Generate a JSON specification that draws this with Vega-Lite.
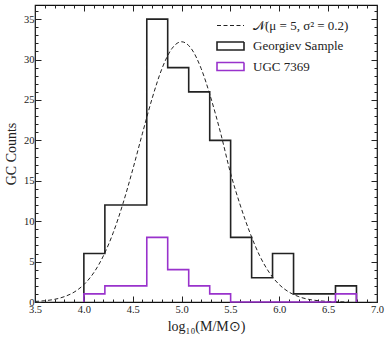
{
  "$schema": "https://vega.github.io/schema/vega-lite/v6.json",
  "width": 342,
  "height": 297,
  "autosize": {"type": "none"},
  "padding": {"left": 35, "top": 5, "right": 13, "bottom": 38},
  "background": "white",
  "config": {
    "font": "Liberation Serif",
    "view": {"stroke": "#111", "strokeWidth": 1.2},
    "axis": {"domain": false, "grid": false, "labelFont": "Liberation Serif", "titleFont": "Liberation Serif", "labelColor": "#222", "tickColor": "#222", "titleFontWeight": "normal", "labelFontSize": 10.5, "titleFontSize": 14, "titleColor": "#222"},
    "legend": {"labelFont": "Liberation Serif", "labelFontSize": 13, "labelColor": "#222"}
  },
  "datasets": {
    "curve": [
      {"series": "𝒩(μ = 5, σ² = 0.2)", "x": 3.5, "y": 0.07}, {"series": "𝒩(μ = 5, σ² = 0.2)", "x": 3.6, "y": 0.16}, {"series": "𝒩(μ = 5, σ² = 0.2)", "x": 3.7, "y": 0.33}, {"series": "𝒩(μ = 5, σ² = 0.2)", "x": 3.8, "y": 0.66}, {"series": "𝒩(μ = 5, σ² = 0.2)", "x": 3.9, "y": 1.22},
      {"series": "𝒩(μ = 5, σ² = 0.2)", "x": 4.0, "y": 2.15}, {"series": "𝒩(μ = 5, σ² = 0.2)", "x": 4.1, "y": 3.6}, {"series": "𝒩(μ = 5, σ² = 0.2)", "x": 4.2, "y": 5.71}, {"series": "𝒩(μ = 5, σ² = 0.2)", "x": 4.3, "y": 8.56}, {"series": "𝒩(μ = 5, σ² = 0.2)", "x": 4.4, "y": 12.17},
      {"series": "𝒩(μ = 5, σ² = 0.2)", "x": 4.5, "y": 16.38}, {"series": "𝒩(μ = 5, σ² = 0.2)", "x": 4.6, "y": 20.89}, {"series": "𝒩(μ = 5, σ² = 0.2)", "x": 4.7, "y": 25.24}, {"series": "𝒩(μ = 5, σ² = 0.2)", "x": 4.8, "y": 28.9}, {"series": "𝒩(μ = 5, σ² = 0.2)", "x": 4.9, "y": 31.34},
      {"series": "𝒩(μ = 5, σ² = 0.2)", "x": 5.0, "y": 32.2}, {"series": "𝒩(μ = 5, σ² = 0.2)", "x": 5.1, "y": 31.34}, {"series": "𝒩(μ = 5, σ² = 0.2)", "x": 5.2, "y": 28.9}, {"series": "𝒩(μ = 5, σ² = 0.2)", "x": 5.3, "y": 25.24}, {"series": "𝒩(μ = 5, σ² = 0.2)", "x": 5.4, "y": 20.89},
      {"series": "𝒩(μ = 5, σ² = 0.2)", "x": 5.5, "y": 16.0}, {"series": "𝒩(μ = 5, σ² = 0.2)", "x": 5.6, "y": 12.0}, {"series": "𝒩(μ = 5, σ² = 0.2)", "x": 5.7, "y": 8.56}, {"series": "𝒩(μ = 5, σ² = 0.2)", "x": 5.8, "y": 5.71}, {"series": "𝒩(μ = 5, σ² = 0.2)", "x": 5.9, "y": 3.6},
      {"series": "𝒩(μ = 5, σ² = 0.2)", "x": 6.0, "y": 2.15}, {"series": "𝒩(μ = 5, σ² = 0.2)", "x": 6.1, "y": 1.22}, {"series": "𝒩(μ = 5, σ² = 0.2)", "x": 6.2, "y": 0.66}, {"series": "𝒩(μ = 5, σ² = 0.2)", "x": 6.3, "y": 0.33}, {"series": "𝒩(μ = 5, σ² = 0.2)", "x": 6.4, "y": 0.16},
      {"series": "𝒩(μ = 5, σ² = 0.2)", "x": 6.5, "y": 0.07}, {"series": "𝒩(μ = 5, σ² = 0.2)", "x": 6.6, "y": 0.03}, {"series": "𝒩(μ = 5, σ² = 0.2)", "x": 6.7, "y": 0.01}
    ],
    "hist": [
      {"series": "Georgiev Sample", "k": 0, "x": 4.0, "n": 0},
      {"series": "Georgiev Sample", "k": 1, "x": 4.0, "n": 6},
      {"series": "Georgiev Sample", "k": 2, "x": 4.215, "n": 12},
      {"series": "Georgiev Sample", "k": 3, "x": 4.429, "n": 12},
      {"series": "Georgiev Sample", "k": 4, "x": 4.644, "n": 35},
      {"series": "Georgiev Sample", "k": 5, "x": 4.858, "n": 29},
      {"series": "Georgiev Sample", "k": 6, "x": 5.073, "n": 26},
      {"series": "Georgiev Sample", "k": 7, "x": 5.288, "n": 20},
      {"series": "Georgiev Sample", "k": 8, "x": 5.502, "n": 8},
      {"series": "Georgiev Sample", "k": 9, "x": 5.717, "n": 3},
      {"series": "Georgiev Sample", "k": 10, "x": 5.931, "n": 6},
      {"series": "Georgiev Sample", "k": 11, "x": 6.146, "n": 1},
      {"series": "Georgiev Sample", "k": 12, "x": 6.361, "n": 1},
      {"series": "Georgiev Sample", "k": 13, "x": 6.575, "n": 2},
      {"series": "Georgiev Sample", "k": 14, "x": 6.79, "n": 0},
      {"series": "UGC 7369", "k": 0, "x": 4.0, "n": 0},
      {"series": "UGC 7369", "k": 1, "x": 4.0, "n": 1},
      {"series": "UGC 7369", "k": 2, "x": 4.215, "n": 2},
      {"series": "UGC 7369", "k": 3, "x": 4.429, "n": 2},
      {"series": "UGC 7369", "k": 4, "x": 4.644, "n": 8},
      {"series": "UGC 7369", "k": 5, "x": 4.858, "n": 4},
      {"series": "UGC 7369", "k": 6, "x": 5.073, "n": 2},
      {"series": "UGC 7369", "k": 7, "x": 5.288, "n": 1},
      {"series": "UGC 7369", "k": 8, "x": 5.502, "n": 0},
      {"series": "UGC 7369", "k": 9, "x": 6.575, "n": 1},
      {"series": "UGC 7369", "k": 10, "x": 6.79, "n": 0}
    ]
  },
  "layer": [
    {
      "data": {"name": "curve"},
      "mark": {"type": "line", "interpolate": "monotone", "strokeWidth": 1, "strokeDash": [4, 2.5]},
      "encoding": {
        "x": {
          "field": "x", "type": "quantitative",
          "scale": {"domain": [3.5, 7.0], "nice": false, "zero": false},
          "axis": {
            "orient": "bottom", "title": "log₁₀(M/M⊙)",
            "values": [3.5,3.6,3.7,3.8,3.9,4.0,4.1,4.2,4.3,4.4,4.5,4.6,4.7,4.8,4.9,5.0,5.1,5.2,5.3,5.4,5.5,5.6,5.7,5.8,5.9,6.0,6.1,6.2,6.3,6.4,6.5,6.6,6.7,6.8,6.9,7.0],
            "labelExpr": "abs(datum.value*2 - round(datum.value*2)) < 0.001 ? format(datum.value, '.1f') : ''",
            "tickSize": {"condition": {"test": "abs(datum.value*2 - round(datum.value*2)) < 0.001", "value": -6}, "value": -3},
            "labelPadding": 8, "labelOverlap": false, "labelFlush": false, "titlePadding": 2
          }
        },
        "y": {
          "field": "y", "type": "quantitative",
          "scale": {"domain": [0, 36.75], "nice": false},
          "axis": {
            "orient": "left", "title": "GC Counts",
            "values": [0,1,2,3,4,5,6,7,8,9,10,11,12,13,14,15,16,17,18,19,20,21,22,23,24,25,26,27,28,29,30,31,32,33,34,35,36],
            "labelExpr": "datum.value % 5 === 0 ? format(datum.value, 'd') : ''",
            "tickSize": {"condition": {"test": "datum.value % 5 === 0", "value": -6}, "value": -3},
            "labelPadding": 7, "labelOverlap": false, "labelFlush": false, "titlePadding": 5
          }
        },
        "color": {
          "field": "series", "type": "nominal",
          "scale": {"domain": ["𝒩(μ = 5, σ² = 0.2)", "Georgiev Sample", "UGC 7369"], "range": ["#222222", "#222222", "#9932CC"]},
          "legend": {
            "title": null, "orient": "none", "legendX": 189, "legendY": 14, "rowPadding": 5.5, "labelOffset": 16,
            "symbolType": "M-1,-0.3H1V0.3H-1Z", "symbolSize": 729, "symbolStrokeWidth": 1.6,
            "encode": {
              "symbols": {
                "update": {
                  "shape": {"signal": "datum.index === 0 ? 'M-1,0H1' : 'M-1,-0.3H1V0.3H-1Z'"},
                  "strokeDash": {"signal": "datum.index === 0 ? [4, 2.5] : [1, 0]"},
                  "strokeWidth": {"signal": "datum.index === 0 ? 1.1 : 1.6"}
                }
              }
            }
          }
        }
      }
    },
    {
      "data": {"name": "hist"},
      "mark": {"type": "line", "interpolate": "step-after", "strokeWidth": 1.6},
      "encoding": {
        "x": {
          "field": "x", "type": "quantitative",
          "axis": {
            "orient": "top", "title": null,
            "values": [3.5,3.6,3.7,3.8,3.9,4.0,4.1,4.2,4.3,4.4,4.5,4.6,4.7,4.8,4.9,5.0,5.1,5.2,5.3,5.4,5.5,5.6,5.7,5.8,5.9,6.0,6.1,6.2,6.3,6.4,6.5,6.6,6.7,6.8,6.9,7.0],
            "labels": false,
            "tickSize": {"condition": {"test": "abs(datum.value*2 - round(datum.value*2)) < 0.001", "value": -6}, "value": -3}
          }
        },
        "y": {
          "field": "n", "type": "quantitative",
          "axis": {
            "orient": "right", "title": null,
            "values": [0,1,2,3,4,5,6,7,8,9,10,11,12,13,14,15,16,17,18,19,20,21,22,23,24,25,26,27,28,29,30,31,32,33,34,35,36],
            "labels": false,
            "tickSize": {"condition": {"test": "datum.value % 5 === 0", "value": -6}, "value": -3}
          }
        },
        "order": {"field": "k", "type": "quantitative"},
        "color": {"field": "series", "type": "nominal"}
      }
    }
  ],
  "resolve": {"axis": {"x": "independent", "y": "independent"}}
}
